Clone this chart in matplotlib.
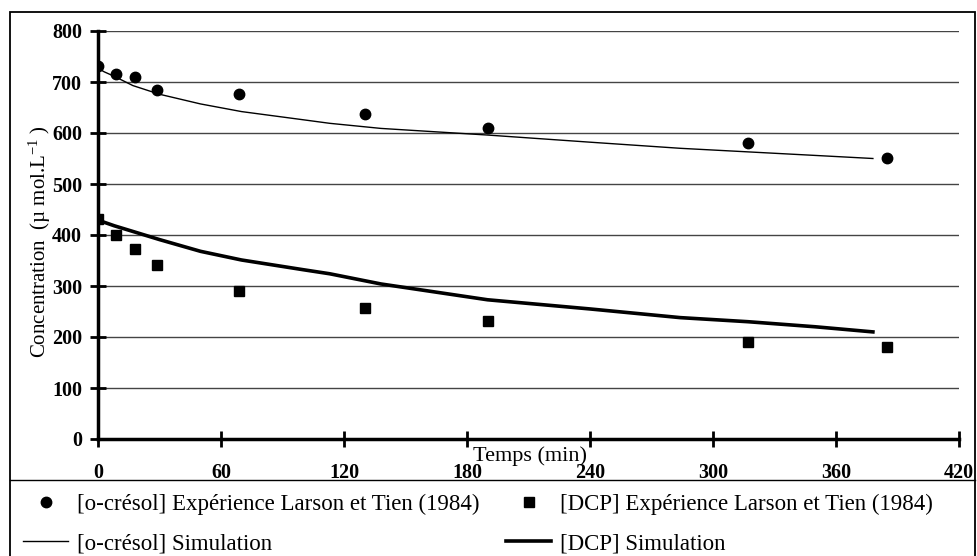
import numpy as np
import matplotlib.pyplot as plt
from matplotlib.patches import Rectangle
from matplotlib.lines import Line2D

plt.rcParams['font.family'] = ['Liberation Serif', 'DejaVu Serif']
plt.rcParams['mathtext.fontset'] = 'custom'
plt.rcParams['mathtext.rm'] = 'Liberation Serif'
plt.rcParams['mathtext.it'] = 'Liberation Serif:italic'

# Larson & Tien (1984) measurements
t_exp = [0, 9, 18, 29, 69, 130, 190, 317, 385]
ocresol_exp = [731, 715, 709, 684, 676, 638, 610, 580, 551]
dcp_exp = [432, 400, 372, 342, 290, 256, 231, 190, 180]

# simulated curves
t_sim = [0, 3, 8, 17, 30, 50, 70, 100, 113, 138, 190, 240, 284, 317, 350, 378]
ocresol_sim = [727, 720, 711, 693, 676, 657, 642, 626, 619, 609, 596, 582, 570, 563, 556, 550]
dcp_sim = [429, 425, 418, 407, 391, 368, 351, 332, 324, 304, 273, 255, 238, 230, 220, 210]

fig = plt.figure(figsize=(9.77, 5.56), dpi=100)
ax = fig.add_axes([98 / 977, 117 / 556, 861 / 977, 408 / 556])

ax.plot(t_sim, ocresol_sim, color='black', lw=1.0, label='[o-crésol] Simulation')
ax.plot(t_sim, dcp_sim, color='black', lw=2.6, label='[DCP] Simulation')
ax.plot(t_exp, ocresol_exp, 'o', color='black', ms=7.5,
        label='[o-crésol] Expérience Larson et Tien (1984)')
ax.plot(t_exp, dcp_exp, 's', color='black', ms=6.5,
        label='[DCP] Expérience Larson et Tien (1984)')

ax.set_xlim(0, 420)
ax.set_ylim(0, 800)
ax.set_xticks(np.arange(0, 421, 60))
ax.set_yticks(np.arange(0, 801, 100))
ax.yaxis.grid(True, color='#444444', lw=1.0)
ax.set_axisbelow(True)

for side in ['top', 'right']:
    ax.spines[side].set_visible(False)
for side in ['left', 'bottom']:
    ax.spines[side].set_linewidth(2.5)

ax.tick_params(direction='inout', length=11, width=2, labelsize=14.5, pad=6)
ax.tick_params(axis='x', pad=11.5)
for lbl in ax.get_xticklabels() + ax.get_yticklabels():
    lbl.set_fontweight('bold')

ax.set_ylabel('Concentration  (µ mol.L$^{-1}$ )', fontsize=15, labelpad=0)
ax.yaxis.set_label_coords(-0.052, 0.485)
fig.text(530 / 977, 1 - 456 / 556, 'Temps (min)', fontsize=16,
         ha='center', va='center')

# frame around the whole chart (bottom edge runs past the canvas) and the legend strip
fig.add_artist(Rectangle((10 / 977, -8 / 556), 965 / 977, 552 / 556,
                         transform=fig.transFigure, fill=False,
                         lw=1.3, color='black'))
fig.add_artist(Line2D([10 / 977, 975 / 977], [76 / 556, 76 / 556],
                      transform=fig.transFigure, lw=1.0, color='black'))

h, l = ax.get_legend_handles_labels()
order = [2, 0, 3, 1]
fig.legend([h[i] for i in order], [l[i] for i in order], ncol=2,
           loc='center left', bbox_to_anchor=(23 / 977, 32 / 556),
           frameon=False, fontsize=16.5, handlelength=1.97,
           handletextpad=0.4, columnspacing=1.15, labelspacing=0.8,
           borderpad=0, borderaxespad=0, numpoints=1)

fig.savefig('out.png', dpi=100)
